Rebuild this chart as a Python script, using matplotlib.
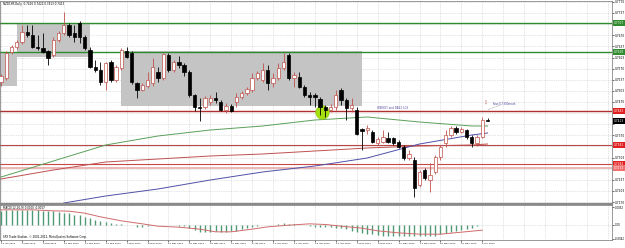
import numpy as np
import matplotlib
matplotlib.use('Agg')
import matplotlib.pyplot as plt
import matplotlib.transforms as mtransforms
from matplotlib.patches import Rectangle
from matplotlib.lines import Line2D

# NZDCHF daily candles, 30 Jan 2012 .. 7 Jun 2012
opens = [0.7530, 0.7542, 0.7620, 0.7635, 0.7650, 0.7680, 0.7671, 0.7635, 0.7632, 0.7623,
         0.7611, 0.7656, 0.7677, 0.7701, 0.7677, 0.7707, 0.7665, 0.7626, 0.7575, 0.7566,
         0.7530, 0.7590, 0.7536, 0.7572, 0.7623, 0.7617, 0.7527, 0.7506, 0.7518, 0.7527,
         0.7560, 0.7542, 0.7611, 0.7566, 0.7590, 0.7581, 0.7560, 0.7491, 0.7455, 0.7455,
         0.7470, 0.7482, 0.7470, 0.7446, 0.7458, 0.7470, 0.7485, 0.7497, 0.7506, 0.7542,
         0.7536, 0.7566, 0.7527, 0.7542, 0.7572, 0.7611, 0.7542, 0.7545, 0.7515, 0.7491,
         0.7491, 0.7479, 0.7455, 0.7446, 0.7455, 0.7506, 0.7476, 0.7452, 0.7446, 0.7389,
         0.7386, 0.7380, 0.7347, 0.7350, 0.7362, 0.7362, 0.7350, 0.7335, 0.7302, 0.7296,
         0.7221, 0.7266, 0.7236, 0.7260, 0.7305, 0.7347, 0.7371, 0.7392, 0.7380, 0.7386,
         0.7365, 0.7347, 0.7365, 0.7416]
highs = [0.7554, 0.7623, 0.7641, 0.7656, 0.7701, 0.7701, 0.7701, 0.7671, 0.7677, 0.7626,
         0.7665, 0.7683, 0.7740, 0.7707, 0.7701, 0.7713, 0.7671, 0.7635, 0.7596, 0.7590,
         0.7590, 0.7596, 0.7581, 0.7632, 0.7635, 0.7623, 0.7530, 0.7527, 0.7560, 0.7602,
         0.7575, 0.7617, 0.7617, 0.7596, 0.7608, 0.7587, 0.7566, 0.7494, 0.7482, 0.7488,
         0.7491, 0.7500, 0.7476, 0.7467, 0.7464, 0.7497, 0.7503, 0.7515, 0.7557, 0.7563,
         0.7587, 0.7581, 0.7557, 0.7587, 0.7617, 0.7617, 0.7560, 0.7560, 0.7521, 0.7500,
         0.7497, 0.7485, 0.7461, 0.7464, 0.7506, 0.7512, 0.7482, 0.7482, 0.7455, 0.7392,
         0.7401, 0.7386, 0.7365, 0.7386, 0.7380, 0.7365, 0.7356, 0.7341, 0.7326, 0.7305,
         0.7266, 0.7272, 0.7287, 0.7311, 0.7341, 0.7386, 0.7398, 0.7398, 0.7395, 0.7389,
         0.7371, 0.7371, 0.7425, 0.7422]
lows = [0.7518, 0.7536, 0.7614, 0.7629, 0.7644, 0.7665, 0.7632, 0.7626, 0.7617, 0.7581,
        0.7605, 0.7650, 0.7671, 0.7665, 0.7650, 0.7647, 0.7626, 0.7572, 0.7560, 0.7521,
        0.7506, 0.7530, 0.7530, 0.7566, 0.7602, 0.7524, 0.7482, 0.7503, 0.7512, 0.7518,
        0.7530, 0.7536, 0.7560, 0.7560, 0.7572, 0.7548, 0.7485, 0.7443, 0.7413, 0.7449,
        0.7461, 0.7467, 0.7443, 0.7437, 0.7440, 0.7455, 0.7479, 0.7491, 0.7500, 0.7536,
        0.7530, 0.7506, 0.7515, 0.7536, 0.7566, 0.7536, 0.7515, 0.7512, 0.7485, 0.7461,
        0.7455, 0.7431, 0.7425, 0.7440, 0.7446, 0.7461, 0.7416, 0.7440, 0.7371, 0.7326,
        0.7374, 0.7347, 0.7341, 0.7347, 0.7347, 0.7341, 0.7332, 0.7296, 0.7296, 0.7185,
        0.7215, 0.7236, 0.7200, 0.7254, 0.7296, 0.7335, 0.7365, 0.7374, 0.7377, 0.7359,
        0.7335, 0.7338, 0.7362, 0.7413]
closes = [0.7548, 0.7617, 0.7635, 0.7650, 0.7680, 0.7671, 0.7635, 0.7632, 0.7620, 0.7602,
          0.7656, 0.7677, 0.7701, 0.7671, 0.7665, 0.7665, 0.7632, 0.7575, 0.7566, 0.7530,
          0.7587, 0.7536, 0.7575, 0.7626, 0.7605, 0.7530, 0.7506, 0.7521, 0.7536, 0.7575,
          0.7542, 0.7614, 0.7566, 0.7590, 0.7581, 0.7560, 0.7491, 0.7455, 0.7452, 0.7482,
          0.7482, 0.7476, 0.7446, 0.7458, 0.7443, 0.7485, 0.7497, 0.7509, 0.7542, 0.7557,
          0.7566, 0.7527, 0.7542, 0.7572, 0.7590, 0.7542, 0.7551, 0.7515, 0.7491, 0.7485,
          0.7485, 0.7455, 0.7446, 0.7455, 0.7491, 0.7476, 0.7452, 0.7461, 0.7374, 0.7383,
          0.7392, 0.7350, 0.7359, 0.7365, 0.7350, 0.7347, 0.7335, 0.7302, 0.7314, 0.7212,
          0.7260, 0.7242, 0.7251, 0.7305, 0.7335, 0.7371, 0.7392, 0.7380, 0.7389, 0.7365,
          0.7347, 0.7365, 0.7416, 0.7413]

# moving averages (read at sample bars)
ma_idx = [0, 10, 20, 30, 40, 50, 60, 70, 80, 90, 93]
green_ma = [0.7245, 0.7293, 0.7341, 0.7368, 0.7386, 0.7398, 0.7416, 0.7425, 0.7410, 0.7398, 0.7398]
red_ma = [0.7239, 0.7266, 0.7290, 0.7299, 0.7308, 0.7314, 0.7323, 0.7332, 0.7338, 0.7341, 0.7344]
blue_idx = [12, 20, 30, 40, 50, 60, 70, 80, 90, 93]
blue_ma = [0.7167, 0.7188, 0.7209, 0.7236, 0.7260, 0.7278, 0.7302, 0.7344, 0.7371, 0.7377]

# horizontal levels
green_levels = [0.7707, 0.7620]
red_levels = [0.7443, 0.7341, 0.7284]
pink_level = 0.7272
bid = 0.7413

price_ticks = [0.7770, 0.7737, 0.7703, 0.7670, 0.7637, 0.7603, 0.7570, 0.7537, 0.7503, 0.7470,
               0.7437, 0.7403, 0.7370, 0.7337, 0.7303, 0.7270, 0.7237, 0.7203, 0.7170]

date_labels = ["30 Jan 2012", "3 Feb 2012", "9 Feb 2012", "15 Feb 2012", "21 Feb 2012",
               "27 Feb 2012", "2 Mar 2012", "8 Mar 2012", "14 Mar 2012", "20 Mar 2012",
               "26 Mar 2012", "30 Mar 2012", "5 Apr 2012", "11 Apr 2012", "17 Apr 2012",
               "23 Apr 2012", "27 Apr 2012", "3 May 2012", "9 May 2012", "15 May 2012",
               "21 May 2012", "25 May 2012", "31 May 2012", "6 Jun 2012"]

# MACD histogram per bar, signal at sample bars
macd_hist = [0.0042, 0.0043, 0.0044, 0.0044, 0.0045, 0.0044, 0.0044, 0.0043, 0.0041, 0.0041,
             0.0040, 0.0039, 0.0036, 0.0034, 0.0029, 0.0028, 0.0024, 0.0019, 0.0014, 0.0010,
             0.0007, 0.0004, 0.0002, 0.0001, -0.0001, -0.0002, -0.0006, -0.0006, -0.0005, -0.0002,
             -0.0002, -0.0001, -0.0002, -0.0002, -0.0003, -0.0005, -0.0011, -0.0017, -0.0021, -0.0022,
             -0.0021, -0.0019, -0.0021, -0.0021, -0.0020, -0.0018, -0.0014, -0.0011, -0.0007, -0.0004,
             -0.0002, -0.0001, 0.0000, 0.0002, 0.0004, 0.0002, 0.0001, 0.0000, -0.0002, -0.0004,
             -0.0006, -0.0007, -0.0008, -0.0008, -0.0010, -0.0011, -0.0014, -0.0018, -0.0022, -0.0025,
             -0.0027, -0.0029, -0.0031, -0.0033, -0.0033, -0.0034, -0.0035, -0.0035, -0.0035, -0.0035,
             -0.0035, -0.0035, -0.0035, -0.0033, -0.0029, -0.0026, -0.0023, -0.0020, -0.0017, -0.0013,
             -0.0009, -0.0005, -0.0002, 0.0000]
sig_idx = [0, 6, 10, 13, 16, 19, 23, 27, 30, 34, 38, 41, 44, 48, 51, 55, 59, 62, 65, 69, 72, 76, 80, 84, 88, 92]
sig_val = [0.0044, 0.0044, 0.0041, 0.0040, 0.0034, 0.0023, 0.0011, 0.0002, -0.0005, -0.0008,
           -0.0014, -0.0022, -0.0022, -0.0014, -0.0007, -0.0002, 0.0002, 0.0000, -0.0005, -0.0011,
           -0.0019, -0.0025, -0.0029, -0.0029, -0.0023, -0.0017]

W, H = 625.0, 248.0
fig = plt.figure(figsize=(6.25, 2.48), dpi=100)
fig.patch.set_facecolor('white')
ax = fig.add_axes([0, 1 - 203 / H, 612 / W, 202 / H])
am = fig.add_axes([0, 1 - 240 / H, 612 / W, 35 / H])

xmin, xmax = -0.2, 116.8
ax.set_xlim(xmin, xmax)
am.set_xlim(xmin, xmax)
ax.set_ylim(0.7167, 0.7773)
am.set_ylim(-0.00465, 0.00585)

grid_x = np.arange(0, 117, 4)
gcol = '#c8c8c8'
for a in (ax, am):
    a.vlines(grid_x, -1, 1, colors=gcol, linestyles=(0, (1, 1.5)), lw=0.5, zorder=0)
ax.hlines(price_ticks, xmin, xmax, colors=gcol, linestyles=(0, (1, 1.5)), lw=0.5, zorder=0)
am.hlines([0], xmin, xmax, colors=gcol, linestyles=(0, (1, 1.5)), lw=0.5, zorder=0)

# gray zones
box = '#c4c4c4'
ax.add_patch(Rectangle((3.05, 0.7605), 17.0 - 3.05, 0.7707 - 0.7605, fc=box, ec='none', zorder=1))
ax.add_patch(Rectangle((xmin, 0.7518), 3.05 - xmin, 0.7620 - 0.7518, fc=box, ec='none', zorder=1))
ax.add_patch(Rectangle((22.9, 0.7458), 69.0 - 22.9, 0.7623 - 0.7458, fc=box, ec='none', zorder=1))

# levels
for lv in green_levels:
    ax.axhline(lv, color='#2e8b2e', lw=1.0, zorder=2)
ax.axhline(red_levels[0], color='#b03030', lw=1.0, zorder=2)
ax.axhline(red_levels[1], color='#b84848', lw=0.8, zorder=2)
ax.axhline(red_levels[2], color='#c84848', lw=0.8, zorder=2)
ax.axhline(pink_level, color='#eab0b0', lw=1.3, zorder=2)

# moving averages
ax.plot(ma_idx, green_ma, color='#5aa05a', lw=0.7, zorder=2)
ax.plot(ma_idx, red_ma, color='#c05050', lw=0.7, zorder=2)
ax.plot(blue_idx, blue_ma, color='#5050a8', lw=0.7, zorder=2)

# highlight circle
ax.scatter([61.4], [0.7440], s=95, color='#a4e010', edgecolors='#88c800', lw=0.4, zorder=2.5)

# candles
o = np.array(opens); h = np.array(highs); l = np.array(lows); c = np.array(closes)
x = np.arange(len(o))
up = c >= o
upc, dnc = '#c0504a', 'black'
ax.vlines(x[up], l[up], h[up], color=upc, lw=0.6, zorder=3)
ax.vlines(x[~up], l[~up], h[~up], color=dnc, lw=0.6, zorder=3)
bw = 0.64
ax.bar(x[up], np.maximum(c[up] - o[up], 0.00006), bottom=o[up], width=bw,
       facecolor='white', edgecolor=upc, lw=0.5, zorder=4)
ax.bar(x[~up], np.maximum(o[~up] - c[~up], 0.00006), bottom=c[~up], width=bw,
       facecolor='black', edgecolor=dnc, lw=0.5, zorder=4)

# annotations
ax.text(71.9, 0.7452, 'WEEKLY and DAILY LCS', fontsize=2.0, color='#5a4a9a', va='center', zorder=6)
ax.text(92.6, 0.7467, '\u21e9', fontsize=3.5, color='#c05050', ha='center', va='center', zorder=6)
ax.plot([93.1, 95.6], [0.7447, 0.7462], color='#909090', lw=0.5, ls=(0, (1, 1)), zorder=6)
ax.text(94.0, 0.7464, 'Fvsn:0.7300mark', fontsize=2.0, color='#5a4a9a', va='center', zorder=6)
ax.text(0.005, 0.985, 'NZDCHF,Daily  0.7416 0.7422 0.7413 0.7413', transform=ax.transAxes,
        fontsize=2.0, color='black', va='center', zorder=6)

# right price axis; tick labels hidden where a coloured level tag sits
tag_vals = green_levels + red_levels + [pink_level, bid]
px_per_price = 202 / (0.7773 - 0.7167)
ax.yaxis.tick_right()
ax.set_yticks(price_ticks)
ax.set_yticklabels(['' if min(abs(p - t) for t in tag_vals) * px_per_price < 4.5 else '%.4f' % p
                    for p in price_ticks])
ax.tick_params(axis='y', labelsize=2.1, length=1.5, width=0.4, pad=0.6, colors='black')
ax.tick_params(axis='x', bottom=False, labelbottom=False)

trans = mtransforms.blended_transform_factory(ax.transAxes, ax.transData)
tags = [(green_levels[0], '#2e8b2e'), (green_levels[1], '#2e8b2e'), (red_levels[0], '#e02020'),
        (bid, 'black'), (red_levels[1], '#e02020'), (red_levels[2], '#e02020'), (pink_level, '#f07070')]
for val, col in tags:
    ax.text(1.003, val, '%.4f' % val, transform=trans, fontsize=2.1, color='white', va='center',
            ha='left', clip_on=False, zorder=10,
            bbox=dict(boxstyle='square,pad=0.2', fc=col, ec='none'))

# MACD
am.vlines(x, 0, macd_hist, color='#4f9a74', lw=1.0, zorder=3)
am.plot(sig_idx, sig_val, color='#d06a6a', lw=0.7, zorder=4)
am.yaxis.tick_right()
am.set_yticks([0.0052, 0.0, -0.0042])
am.set_yticklabels(['0.0052', '0.00', '-0.0042'])
am.tick_params(axis='y', labelsize=1.9, length=1.5, width=0.4, pad=0.5)
am.set_xticks(np.arange(0, 93, 4))
am.set_xticklabels(date_labels, ha='left')
am.tick_params(axis='x', labelsize=1.7, length=1.5, width=0.4, pad=0.8)
am.text(0.005, 0.914, 'MACD(12,26,9) 0.0000 -0.0017', transform=am.transAxes, fontsize=2.0,
        va='center')
am.text(0.005, 0.094, 'SFX Trade Station, \u00a9 2001-2012, MetaQuotes Software Corp.',
        transform=am.transAxes, fontsize=2.0, va='center')

for a in (ax, am):
    for s in a.spines.values():
        s.set_color('#707070')
        s.set_linewidth(0.5)

fig.add_artist(Line2D([0, 612 / W], [1 - 204 / H, 1 - 204 / H], color='#8a8a8a', lw=1.6))

fig.savefig('out.png', dpi=100, facecolor='white')
